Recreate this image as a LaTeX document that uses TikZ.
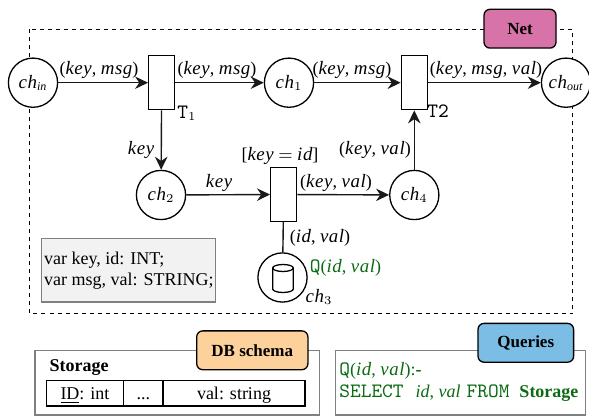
\documentclass[tikz,border=0pt]{standalone}
\usepackage{amsmath}
\usepackage{amssymb}
\usepackage{fontspec}
\setmainfont{Liberation Serif}
\newfontfamily\varfont[LetterSpace=3,Scale=1.05]{Liberation Serif}
\usepackage{tikz}
\usetikzlibrary{arrows.meta,shapes.geometric}
\definecolor{netpink}{HTML}{D873A9}
\definecolor{dborange}{HTML}{FDD19C}
\definecolor{queryblue}{HTML}{7BBDE4}
\definecolor{querygreen}{HTML}{0B6B12}
\newcommand{\vn}[1]{{\varfont\itshape #1}}
\newcommand{\chn}[1]{\vn{ch}$_{#1}$}
\newcommand{\ttq}[1]{{\fontsize{10.2}{12}\selectfont\ttfamily #1}}
\tikzset{
    place/.style={draw, circle, fill=white, line width=0.65pt, inner sep=0pt, minimum size=24.6pt},
    trans/.style={draw, rectangle, fill=white, line width=0.65pt, inner sep=0pt, minimum width=13pt, minimum height=27pt},
    tag/.style={draw, rounded corners=3pt, line width=0.65pt, inner sep=0pt, font=\fontsize{8.5}{10}\selectfont\bfseries},
    cell/.style={draw, rectangle, line width=0.65pt, inner sep=0pt, minimum height=12.8pt, text height=7pt, text depth=1pt},
    frame/.style={draw=black!50, line width=0.65pt},
    arc/.style={-{Stealth[length=6.5pt,width=6.2pt]}, line width=0.7pt, black!90},
    lbl/.style={inner sep=0pt, text=black}
}
\begin{document}
\begin{tikzpicture}[x=0.5pt,y=-0.5pt,font=\fontsize{9}{10.5}\selectfont]
    \useasboundingbox (0,0) rectangle (589,416);
    \draw[dash pattern=on 2pt off 2pt, line width=0.65pt] (29.5,29.5) rectangle (572.8,313.5);
    \node[place] (chin) at (33,82.7) {\chn{\text{\itshape in}}};
    \node[trans] (t1) at (161.7,82.7) {};
    \node[place] (ch1) at (289,82.7) {\chn{1}};
    \node[trans] (t2) at (414.3,82.7) {};
    \node[draw, ellipse, fill=white, line width=0.65pt, inner sep=0pt, minimum width=22pt, minimum height=24.6pt] (chout) at (566,82.7) {\chn{\text{\itshape out}}};
    \node[place] (ch2) at (161,195) {\chn{2}};
    \node[trans] (t3) at (283.7,194.5) {};
    \node[place] (ch4) at (414.3,195) {\chn{4}};
    \node[place] (ch3) at (282.5,277.5) {};
    \draw[line width=0.65pt] (283,268) ellipse [x radius=10.3, y radius=3.5];
    \draw[line width=0.65pt] (272.7,268) -- (272.7,289) arc[start angle=180, end angle=0, x radius=10.3, y radius=3.5] -- (293.3,268);
    \draw[arc] (chin) -- (t1);
    \draw[arc] (t1) -- (ch1);
    \draw[arc] (ch1) -- (t2);
    \draw[arc] (t2) -- (chout);
    \draw[arc] (t1) -- (ch2);
    \draw[arc] (ch2) -- (t3);
    \draw[arc] (t3) -- (ch4);
    \draw[arc] (ch4) -- (t2);
    \draw[line width=0.7pt, black!90] (t3) -- (ch3);
    \node[lbl] (l1) at (99,70) {(\vn{key}, \vn{msg})};
    \node[lbl] (l2) at (217,70) {(\vn{key}, \vn{msg})};
    \node[lbl] (l3) at (352,70) {(\vn{key}, \vn{msg})};
    \node[lbl] (l4) at (486,70) {(\vn{key}, \vn{msg}, \vn{val})};
    \node[lbl] (l5) at (141,150) {\vn{key}};
    \node[lbl] (l6) at (219,183) {\vn{key}};
    \node[lbl] (l7) at (280,156) {[\vn{key} $=$ \vn{id}]};
    \node[lbl] (l8) at (375,150) {(\vn{key}, \vn{val})};
    \node[lbl] (l9) at (336,183) {(\vn{key}, \vn{val})};
    \node[lbl] (l10) at (320,238) {(\vn{id}, \vn{val})};
    \node[lbl, text=querygreen] (qnet) at (345.5,268) {\ttq{Q}(\vn{id}, \vn{val})};
    \node[lbl] (l11) at (319,297) {\chn{3}};
    \node[lbl] (t1name) at (187,113) {\ttq{T}$_1$};
    \node[lbl] (t2name) at (438,111) {\ttq{T2}};
    \node[draw=black!50, fill=black!5, line width=0.65pt, inner sep=0pt, minimum width=87pt, minimum height=31.6pt, align=left] (vars) at (128.8,270.3) {var key, id: INT;\\var msg, val: STRING;};
    \node[tag, fill=netpink, minimum width=36pt, minimum height=19.4pt] (net) at (520,28.7) {Net};
    \draw[frame] (35,350.3) rectangle (319.3,415);
    \node[tag, fill=dborange, minimum width=55.6pt, minimum height=19.4pt] (schema) at (252.3,350.3) {DB schema};
    \node[lbl, font=\fontsize{9}{10.5}\selectfont\bfseries] (storage) at (79,368) {Storage};
    \node[cell, minimum width=38.7pt] (c1) at (85,393.2) {\underline{ID}: int};
    \node[cell, minimum width=19.6pt] (c2) at (143.3,393.2) {...};
    \node[cell, minimum width=71pt] (c3) at (234,393.2) {val: string};
    \draw[frame] (335.3,350.3) rectangle (585.7,415);
    \node[tag, fill=queryblue, minimum width=47.8pt, minimum height=19.4pt] (queries) at (525.8,342.8) {Queries};
    \node[lbl, text=querygreen, anchor=base west] (q1) at (339,376) {\ttq{Q}(\vn{id}, \vn{val}):\textbf{-}};
    \node[lbl, text=querygreen, anchor=base west] (q2) at (339,398) {\ttq{SELECT}\hspace{6pt}\textit{id}, \textit{val}\hspace{3pt}\ttq{FROM}\hspace{5pt}\textbf{Storage}};
\end{tikzpicture}
\end{document}
